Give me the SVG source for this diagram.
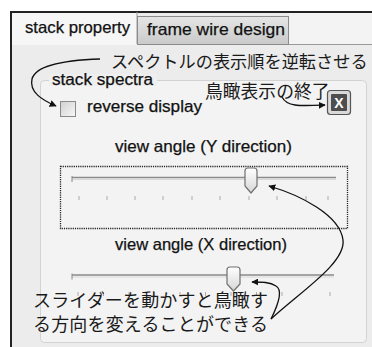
<svg xmlns="http://www.w3.org/2000/svg" width="372" height="347" viewBox="0 0 372 347">
<defs>
<style>
.en{font-family:"Liberation Sans",Arial,sans-serif;fill:#111;stroke:#111;stroke-width:0.25}
.jp{font-family:"Noto Sans CJK JP",sans-serif;fill:#1a1a1a}
.conn{fill:none;stroke:#111;stroke-width:1.3}
.tick{stroke:#aaa;stroke-width:1}
.track{stroke:#8a8a8a;stroke-width:1.6}
.trackl{stroke:#d8d8d8;stroke-width:1}
.thumb{fill:url(#thumbG);stroke:#707070;stroke-width:1.2}
</style>
<linearGradient id="thumbG" x1="0" y1="0" x2="0" y2="1">
<stop offset="0" stop-color="#ffffff"/><stop offset="1" stop-color="#d6d6d6"/>
</linearGradient>
<linearGradient id="tabG" x1="0" y1="0" x2="0" y2="1">
<stop offset="0" stop-color="#e6e6e6"/><stop offset="1" stop-color="#c9c9c9"/>
</linearGradient>
<linearGradient id="cbG" x1="0" y1="0" x2="1" y2="1">
<stop offset="0" stop-color="#d0d0d0"/><stop offset="1" stop-color="#f8f8f8"/>
</linearGradient>
<marker id="arr" viewBox="0 0 10 10" refX="9" refY="5" markerWidth="7" markerHeight="7" orient="auto" markerUnits="userSpaceOnUse">
<path d="M0,0 L10,5 L0,10 Z" fill="#111"/>
</marker>
</defs>
<rect x="0" y="0" width="372" height="347" fill="#ffffff"/>
<g id="panel">
<rect x="12" y="12" width="360" height="335" fill="#ececec"/>
<rect x="12" y="12" width="125" height="33" fill="#f6f6f6"/>
<rect x="289" y="13" width="83" height="31" fill="#f3f3f3"/>
<path d="M11,347 V12 H372" fill="none" stroke="#222" stroke-width="2"/>
<line x1="137" y1="12" x2="137" y2="44" stroke="#9a9a9a" stroke-width="1"/>
<line x1="137" y1="44.5" x2="372" y2="44.5" stroke="#9a9a9a" stroke-width="1"/>
</g>
<g id="tab-stack-property">
<text class="en" x="25" y="33" font-size="16.5" textLength="105" lengthAdjust="spacingAndGlyphs">stack property</text>
</g>
<g id="tab-frame-wire-design">
<rect x="137.5" y="16.5" width="151" height="28" fill="url(#tabG)" stroke="#8c8c8c"/>
<text class="en" x="147" y="35" font-size="16.5" textLength="138" lengthAdjust="spacingAndGlyphs">frame wire design</text>
</g>
<g id="groupbox-stack-spectra">
<rect x="40.5" y="80.5" width="326" height="262" rx="4" fill="#f3f3f3" stroke="#d2d2d2"/>
<rect x="49" y="74" width="108" height="12" fill="#efefef"/>
<text class="en" x="52" y="85" font-size="16" textLength="101" lengthAdjust="spacingAndGlyphs">stack spectra</text>
</g>
<g id="checkbox-reverse-display">
<rect x="60.5" y="101.5" width="15" height="15" fill="url(#cbG)" stroke="#8a8a8a"/>
<text class="en" x="87" y="112" font-size="16" textLength="115" lengthAdjust="spacingAndGlyphs">reverse display</text>
</g>
<g id="close-button">
<rect x="327.5" y="90.5" width="23" height="24" rx="3" fill="#d9d9d9" stroke="#555" stroke-width="1.2"/>
<rect x="331" y="94" width="16" height="17" rx="1" fill="#4e4e4e"/>
<text x="339" y="108" font-size="14" font-weight="bold" text-anchor="middle" font-family="Liberation Sans,Arial,sans-serif" fill="#ffffff">X</text>
</g>
<g id="slider-y">
<text class="en" x="115" y="152" font-size="16.5" textLength="177" lengthAdjust="spacingAndGlyphs">view angle (Y direction)</text>
<rect x="60.5" y="166.5" width="287" height="62" fill="none" stroke="#222" stroke-width="1.3" stroke-dasharray="1.2,1"/>
<line class="track" x1="72" y1="177.5" x2="336" y2="177.5"/>
<line class="trackl" x1="72" y1="179.5" x2="336" y2="179.5"/>
<line x1="72" y1="176" x2="72" y2="182" stroke="#888" stroke-width="1"/>
<g class="tick">
<line x1="79" y1="196" x2="79" y2="200"/><line x1="107" y1="196" x2="107" y2="200"/><line x1="135" y1="196" x2="135" y2="200"/><line x1="163" y1="196" x2="163" y2="200"/><line x1="192" y1="196" x2="192" y2="200"/><line x1="220" y1="196" x2="220" y2="200"/><line x1="249" y1="196" x2="249" y2="200"/><line x1="277" y1="196" x2="277" y2="200"/><line x1="306" y1="196" x2="306" y2="200"/><line x1="328" y1="196" x2="328" y2="200"/>
</g>
<path class="thumb" d="M245,171 Q245,168 248,168 H254 Q257,168 257,171 V186 L251,193 L245,186 Z"/>
</g>
<g id="slider-x">
<text class="en" x="115" y="250" font-size="16.5" textLength="172" lengthAdjust="spacingAndGlyphs">view angle (X direction)</text>
<line class="track" x1="72" y1="275" x2="334" y2="275"/>
<line class="trackl" x1="72" y1="277" x2="334" y2="277"/>
<line x1="72" y1="273.5" x2="72" y2="279.5" stroke="#888" stroke-width="1"/>
<g class="tick">
<line x1="78" y1="292" x2="78" y2="296"/><line x1="103.5" y1="292" x2="103.5" y2="296"/><line x1="129" y1="292" x2="129" y2="296"/><line x1="154.5" y1="292" x2="154.5" y2="296"/><line x1="180" y1="292" x2="180" y2="296"/><line x1="205.5" y1="292" x2="205.5" y2="296"/><line x1="231" y1="292" x2="231" y2="296"/><line x1="256.5" y1="292" x2="256.5" y2="296"/><line x1="282" y1="292" x2="282" y2="296"/><line x1="330" y1="292" x2="330" y2="296"/>
</g>
<path class="thumb" d="M227,270 Q227,267 230,267 H237 Q240,267 240,270 V284 L233.5,291 L227,284 Z"/>
</g>
<g id="note-reverse">
<text class="jp" x="111" y="68" font-size="17.2">スペクトルの表示順を逆転させる</text>
</g>
<g id="note-close">
<text class="jp" x="205" y="98" font-size="17.8">鳥瞰表示の終了</text>
</g>
<g id="note-slider">
<text class="jp" x="33" y="307" font-size="18" textLength="235" lengthAdjust="spacing">スライダーを動かすと鳥瞰す</text>
<text class="jp" x="33" y="331" font-size="18" textLength="235" lengthAdjust="spacing">る方向を変えることができる</text>
</g>
<g id="connectors">
<path class="conn" d="M100,59 C70,60 36,64 32,79 C29,92 42,100 56,106" marker-end="url(#arr)"/>
<path class="conn" d="M282,97 C287,107 300,106 325,105" marker-end="url(#arr)"/>
<path class="conn" d="M271,319 C300,292 346,263 343,240 C340,215 300,195 269,186" marker-end="url(#arr)"/>
<path class="conn" d="M271,319 C278,305 283,290 276,286 C270,282 262,282 252,282" marker-end="url(#arr)"/>
</g>
</svg>
